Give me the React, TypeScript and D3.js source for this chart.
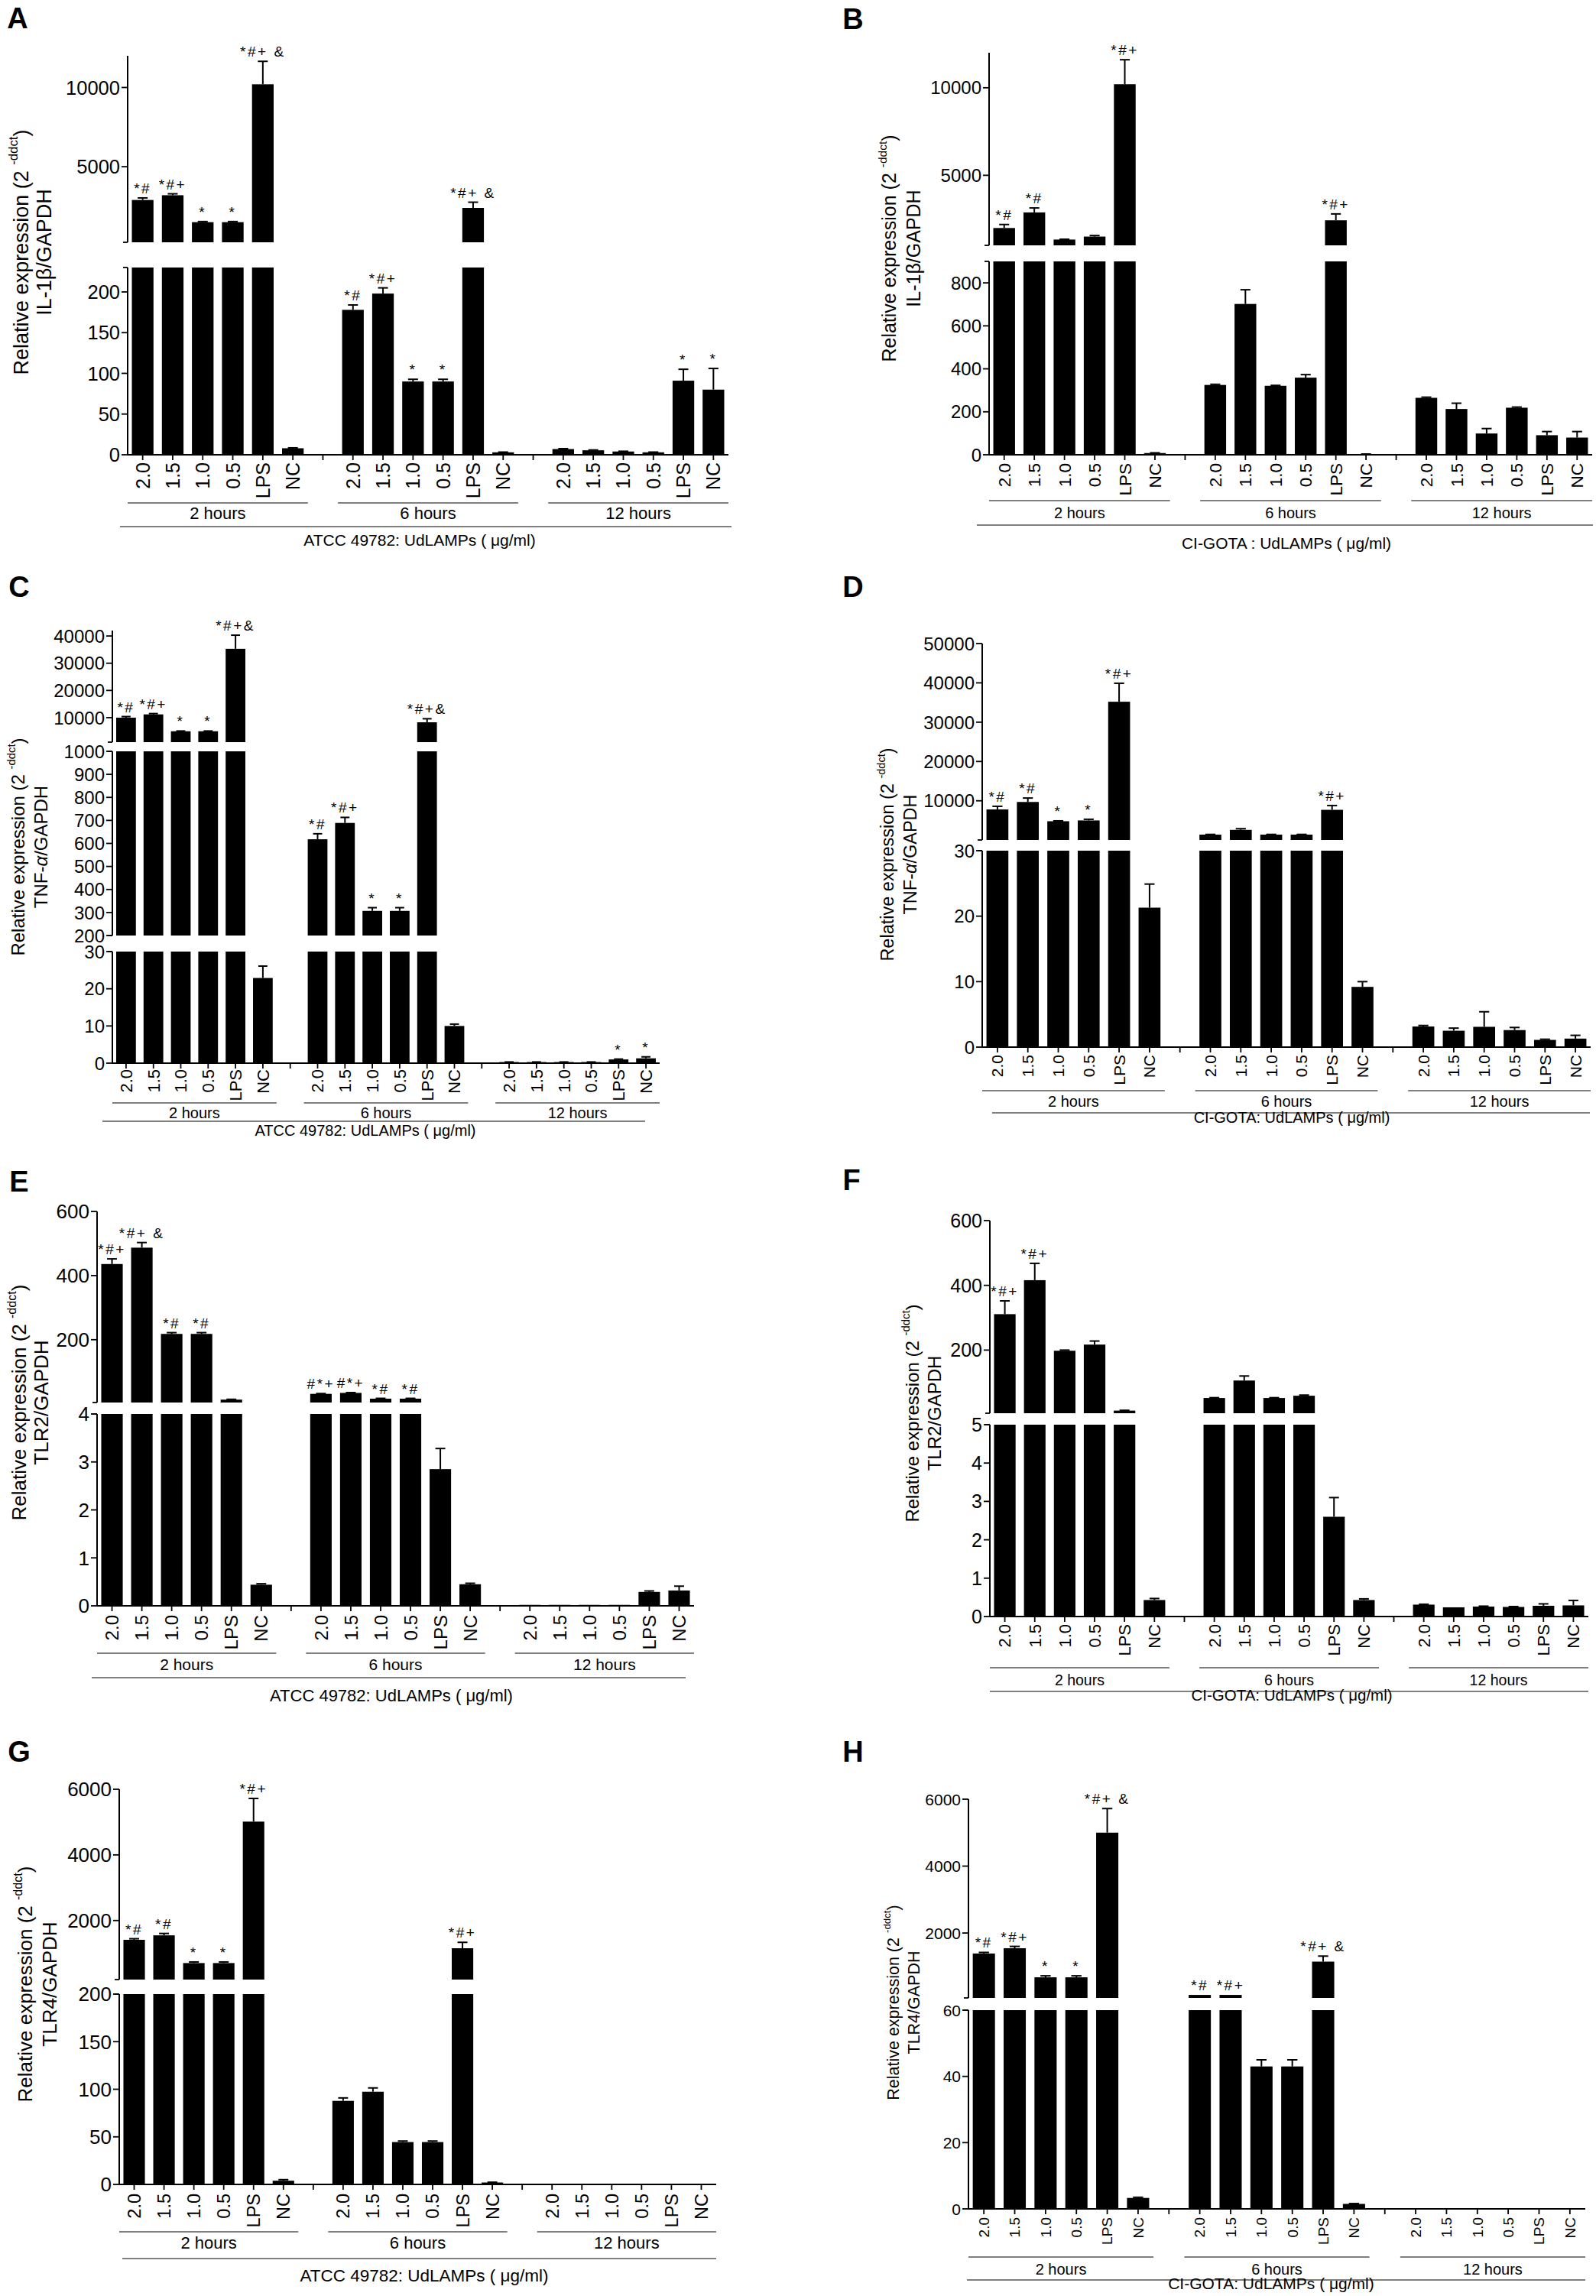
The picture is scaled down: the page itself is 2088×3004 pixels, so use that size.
import * as d3 from "d3";

// Shared categories
const CATEGORIES = ["2.0", "1.5", "1.0", "0.5", "LPS", "NC"];
const GROUPS = ["2 hours", "6 hours", "12 hours"];

// A: IL-1β, ATCC 49782
const aValues = [2900, 3200, 1500, 1500, 10200, 8, 178, 198, 90, 90, 2400, 3, 7, 5.5, 4, 3, 91, 80];
const aErrors = [130, 90, 40, 40, 1450, 0.5, 6, 7, 2.7, 2.7, 360, 0.3, 0.5, 0.4, 0.3, 0.3, 14, 26];
const aMarks = ["*#", "*#+", "*", "*", "*#+ &", "", "*#", "*#+", "*", "*", "*#+ &", "", "", "", "", "", "*", "*"];
const aSegments = [
  { domain: [0, 230], ticks: [0, 50, 100, 150, 200] },
  { domain: [230, 12000], ticks: [5000, 10000] },
];

// B: IL-1β, CI-GOTA
const bValues = [1990, 2880, 1330, 1500, 10200, 8, 325, 702, 321, 359, 2430, 3, 265, 213, 99, 219, 91, 80];
const bErrors = [200, 255, 20, 60, 1400, 1, 3, 66, 2, 14, 365, 0.5, 3, 27, 23, 3, 17, 28];
const bMarks = ["*#", "*#", "", "", "*#+", "", "", "", "", "", "*#+", "", "", "", "", "", "", ""];
const bSegments = [
  { domain: [0, 900], ticks: [0, 200, 400, 600, 800] },
  { domain: [1000, 12000], ticks: [5000, 10000] },
];

// C: TNF-α, ATCC 49782
const cValues = [10000, 11200, 5000, 5000, 35300, 22.9, 618, 689, 307, 307, 8300, 10, 0.3, 0.3, 0.3, 0.3, 1.0, 1.3];
const cErrors = [400, 300, 100, 100, 5000, 3.2, 24, 24, 14, 14, 1300, 0.5, 0.02, 0.02, 0.02, 0.02, 0.1, 0.4];
const cMarks = ["*#", "*#+", "*", "*", "*#+&", "", "*#", "*#+", "*", "*", "*#+&", "", "", "", "", "", "*", "*"];
const cSegments = [
  { domain: [0, 30], ticks: [0, 10, 20, 30] },
  { domain: [200, 1000], ticks: [200, 300, 400, 500, 600, 700, 800, 900, 1000] },
  { domain: [1000, 42000], ticks: [10000, 20000, 30000, 40000] },
];

// D: TNF-α, CI-GOTA
const dValues = [7800, 9700, 4800, 5000, 35200, 21.3, 1400, 2600, 1400, 1400, 7700, 9.2, 3.15, 2.5, 3.1, 2.6, 1.1, 1.3];
const dErrors = [800, 1000, 100, 300, 4700, 3.6, 50, 300, 50, 50, 1100, 0.8, 0.15, 0.4, 2.3, 0.4, 0.1, 0.5];
const dMarks = ["*#", "*#", "*", "*", "*#+", "", "", "", "", "", "*#+", "", "", "", "", "", "", ""];
const dSegments = [
  { domain: [0, 30], ticks: [0, 10, 20, 30] },
  { domain: [30, 50000], ticks: [10000, 20000, 30000, 40000, 50000] },
];

// E: TLR2, ATCC 49782
const eValues = [436, 487, 218, 218, 13, 0.44, 31, 34, 16, 16, 2.85, 0.45, 0.02, 0.02, 0.02, 0.02, 0.29, 0.32];
const eErrors = [16, 16, 4, 4, 1, 0.02, 1, 1, 1, 1, 0.43, 0.02, 0, 0, 0, 0, 0.02, 0.09];
const eMarks = ["*#+", "*#+ &", "*#", "*#", "", "", "#*+", "#*+", "*#", "*#", "", "", "", "", "", "", "", ""];
const eSegments = [
  { domain: [0, 4], ticks: [0, 1, 2, 3, 4] },
  { domain: [4, 600], ticks: [200, 400, 600] },
];

// F: TLR2, CI-GOTA
const fValues = [311, 416, 198, 217, 13, 0.43, 52, 106, 52, 59, 2.6, 0.43, 0.31, 0.24, 0.26, 0.25, 0.28, 0.29];
const fErrors = [41, 52, 2, 11, 1, 0.04, 1, 14, 1, 2, 0.5, 0.03, 0.01, 0, 0.01, 0.01, 0.05, 0.13];
const fMarks = ["*#+", "*#+", "", "", "", "", "", "", "", "", "", "", "", "", "", "", "", ""];
const fSegments = [
  { domain: [0, 5], ticks: [0, 1, 2, 3, 4, 5] },
  { domain: [5, 600], ticks: [200, 400, 600] },
];

// G: TLR4, ATCC 49782
const gValues = [1412, 1548, 703, 703, 5014, 3.9, 87.8, 97.4, 44.5, 44.5, 1155, 2, 0.3, 0.3, 0.3, 0.3, 0.3, 0.3];
const gErrors = [33, 57, 34, 34, 706, 1.1, 3.1, 4, 1.1, 1.1, 180, 0.3, 0, 0, 0, 0, 0, 0];
const gMarks = ["*#", "*#", "*", "*", "*#+", "", "", "", "", "", "*#+", "", "", "", "", "", "", ""];
const gSegments = [
  { domain: [0, 200], ticks: [0, 50, 100, 150, 200] },
  { domain: [200, 6000], ticks: [2000, 4000, 6000] },
];

// H: TLR4, CI-GOTA
const hValues = [1388, 1545, 676, 676, 5000, 3.3, 150, 150, 43, 43, 1145, 1.5, 0.1, 0.1, 0.1, 0.1, 0.1, 0.1];
const hErrors = [32, 55, 44, 44, 720, 0.2, 0, 0, 2, 2, 165, 0.1, 0, 0, 0, 0, 0, 0];
const hMarks = ["*#", "*#+", "*", "*", "*#+ &", "", "*#", "*#+", "", "", "*#+ &", "", "", "", "", "", "", ""];
const hSegments = [
  { domain: [0, 60], ticks: [0, 20, 40, 60] },
  { domain: [60, 6000], ticks: [2000, 4000, 6000] },
];

const ATCC_TITLE = "ATCC 49782: UdLAMPs ( μg/ml)";

// slot keys: 6 bars per group, one empty slot between groups
const SLOTS: string[] = [];
GROUPS.forEach((g, gi) => {
  if (gi > 0) SLOTS.push(`gap${gi}`);
  CATEGORIES.forEach((c) => SLOTS.push(`${g}|${c}`));
});

const FONT = "'Liberation Sans', Arial, Helvetica, sans-serif";

interface Segment {
  domain: number[];
  ticks: number[];
}

interface Layout {
  letter: string;
  letterX: number;
  letterY: number;
  left: number;
  right: number;
  segPx: [number, number][];
  catTop: number;
  groupLineY: number;
  groupTextY: number;
  titleLineY: number;
  titleLineX: [number, number];
  titleX: number;
  titleY: number;
  yTitleX: [number, number];
  yTitleY: number;
  fonts: { tick: number; cat: number; group: number; title: number; yTitle: number };
}

interface YLabel {
  prefix: string;
  greek?: string;
  italic?: boolean;
  suffix?: string;
}

interface PanelProps {
  layout: Layout;
  segments: Segment[];
  values: number[];
  errors: number[];
  marks: string[];
  yLabel: YLabel;
  xTitle: string;
}

function Panel({ layout, segments, values, errors, marks, yLabel, xTitle }: PanelProps) {
  const x = d3
    .scaleBand<string>()
    .domain(SLOTS)
    .range([layout.left, layout.right])
    .paddingInner(0.28)
    .paddingOuter(0.14);
  const step = x.step();
  const bw = x.bandwidth();
  const edge = (step - bw) / 2;

  const ys = segments.map((s, i) =>
    d3.scaleLinear().domain(s.domain).range(layout.segPx[i])
  );
  const axisY = ys[0](0);
  const f = layout.fonts;

  const keyOf = (i: number) => `${GROUPS[Math.floor(i / 6)]}|${CATEGORIES[i % 6]}`;

  return (
    <g fontFamily={FONT} fill="#000">
      <text x={layout.letterX} y={layout.letterY} fontSize={38} fontWeight="bold" textAnchor="middle">
        {layout.letter}
      </text>

      {/* y axis segments */}
      {ys.map((y, si) => {
        const [lo, hi] = segments[si].domain;
        const edgeTicks: number[] = [];
        if (si > 0) edgeTicks.push(lo);
        if (si < ys.length - 1) edgeTicks.push(hi);
        return (
          <g key={`seg${si}`}>
            <line x1={layout.left} x2={layout.left} y1={y(lo)} y2={y(hi)} stroke="#000" strokeWidth={2} />
            {edgeTicks.map((t) => (
              <line key={`e${t}`} x1={layout.left - 6} x2={layout.left} y1={y(t)} y2={y(t)} stroke="#000" strokeWidth={1.8} />
            ))}
            {segments[si].ticks.map((t) => (
              <g key={t}>
                <line x1={layout.left - 8} x2={layout.left} y1={y(t)} y2={y(t)} stroke="#000" strokeWidth={1.8} />
                <text x={layout.left - 10} y={y(t)} dy="0.36em" textAnchor="end" fontSize={f.tick}>
                  {t}
                </text>
              </g>
            ))}
          </g>
        );
      })}

      {/* x axis with a tick under every slot */}
      <line x1={layout.left} x2={layout.right} y1={axisY} y2={axisY} stroke="#000" strokeWidth={2} />
      {SLOTS.map((s) => (
        <line
          key={s}
          x1={(x(s) as number) + bw / 2}
          x2={(x(s) as number) + bw / 2}
          y1={axisY}
          y2={axisY + 7}
          stroke="#000"
          strokeWidth={1.8}
        />
      ))}

      {/* bars */}
      {values.map((v, i) => {
        const key = keyOf(i);
        const bx = x(key) as number;
        return (
          <g key={key}>
            {ys.map((y, si) => {
              const [lo, hi] = segments[si].domain;
              if (v <= lo) return null;
              const top = y(Math.min(v, hi));
              return <rect key={si} x={bx} y={top} width={bw} height={y(lo) - top} fill="#000" />;
            })}
          </g>
        );
      })}

      {/* error bars and significance marks */}
      {values.map((v, i) => {
        const key = keyOf(i);
        const cx = (x(key) as number) + bw / 2;
        let si = ys.findIndex((_, k) => v > segments[k].domain[0] && v <= segments[k].domain[1]);
        if (si < 0) si = 0;
        const y = ys[si];
        const e = errors[i];
        const yTop = y(v + e);
        const cap = bw * 0.23;
        return (
          <g key={`err${key}`}>
            {e > 0 && (
              <g stroke="#000" strokeWidth={2}>
                <line x1={cx} x2={cx} y1={y(v)} y2={yTop} />
                <line x1={cx - cap} x2={cx + cap} y1={yTop} y2={yTop} />
              </g>
            )}
            {marks[i] && (
              <text x={cx} y={yTop - 6} textAnchor="middle" fontSize={19} letterSpacing={2.5}>
                {marks[i]}
              </text>
            )}
          </g>
        );
      })}

      {/* category labels */}
      {values.map((_, i) => {
        const key = keyOf(i);
        const cx = (x(key) as number) + bw / 2;
        return (
          <text
            key={`lab${key}`}
            transform={`translate(${cx},${layout.catTop}) rotate(-90)`}
            textAnchor="end"
            dy="0.36em"
            fontSize={f.cat}
          >
            {CATEGORIES[i % 6]}
          </text>
        );
      })}

      {/* group brackets */}
      {GROUPS.map((g) => {
        const x1 = (x(`${g}|${CATEGORIES[0]}`) as number) - edge;
        const x2 = (x(`${g}|${CATEGORIES[5]}`) as number) + bw + edge;
        return (
          <g key={g}>
            <line x1={x1} x2={x2} y1={layout.groupLineY} y2={layout.groupLineY} stroke="#000" strokeWidth={1.2} />
            <text x={(x1 + x2) / 2} y={layout.groupTextY} textAnchor="middle" fontSize={f.group}>
              {g}
            </text>
          </g>
        );
      })}

      <line
        x1={layout.titleLineX[0]}
        x2={layout.titleLineX[1]}
        y1={layout.titleLineY}
        y2={layout.titleLineY}
        stroke="#000"
        strokeWidth={1.2}
      />
      <text x={layout.titleX} y={layout.titleY} textAnchor="middle" fontSize={f.title}>
        {xTitle}
      </text>

      {/* y title */}
      <text
        transform={`translate(${layout.yTitleX[0]},${layout.yTitleY}) rotate(-90)`}
        textAnchor="middle"
        dy="0.36em"
        fontSize={f.yTitle}
      >
        Relative expression (2{" "}
        <tspan fontSize={f.yTitle * 0.62} dy={-f.yTitle * 0.5}>
          -ddct
        </tspan>
        <tspan fontSize={f.yTitle} dy={f.yTitle * 0.5}>
          )
        </tspan>
      </text>
      <text
        transform={`translate(${layout.yTitleX[1]},${layout.yTitleY}) rotate(-90)`}
        textAnchor="middle"
        dy="0.36em"
        fontSize={f.yTitle}
      >
        {yLabel.prefix}
        {yLabel.greek && <tspan fontStyle={yLabel.italic ? "italic" : "normal"}>{yLabel.greek}</tspan>}
        {yLabel.suffix}
      </text>
    </g>
  );
}

const layoutA: Layout = {
  letter: "A", letterX: 23, letterY: 37, left: 167, right: 953,
  segPx: [[595, 350], [317, 73]], catTop: 605,
  groupLineY: 658, groupTextY: 679, titleLineY: 689, titleLineX: [157, 957],
  titleX: 549, titleY: 714, yTitleX: [27, 57], yTitleY: 330,
  fonts: { tick: 25.5, cat: 25, group: 22, title: 21, yTitle: 27 },
};
const layoutB: Layout = {
  letter: "B", letterX: 1116, letterY: 38, left: 1294, right: 2083,
  segPx: [[595, 342], [321, 69]], catTop: 606,
  groupLineY: 655, groupTextY: 678, titleLineY: 687, titleLineX: [1278, 2084],
  titleX: 1683, titleY: 718, yTitleX: [1163, 1195], yTitleY: 325,
  fonts: { tick: 24, cat: 22.5, group: 20, title: 21, yTitle: 25 },
};
const layoutC: Layout = {
  letter: "C", letterX: 25, letterY: 781, left: 147, right: 863,
  segPx: [[1391, 1245], [1224, 983], [971, 825]], catTop: 1399,
  groupLineY: 1443, groupTextY: 1463, titleLineY: 1467, titleLineX: [134, 844],
  titleX: 478, titleY: 1486, yTitleX: [23, 53], yTitleY: 1108,
  fonts: { tick: 24, cat: 22, group: 20, title: 20, yTitle: 24 },
};
const layoutD: Layout = {
  letter: "D", letterX: 1116, letterY: 781, left: 1285, right: 2081,
  segPx: [[1370, 1113], [1099, 842]], catTop: 1380,
  groupLineY: 1427, groupTextY: 1448, titleLineY: 1456, titleLineX: [1298, 2080],
  titleX: 1690, titleY: 1469, yTitleX: [1161, 1191], yTitleY: 1118,
  fonts: { tick: 24, cat: 21, group: 20, title: 20, yTitle: 23.5 },
};
const layoutE: Layout = {
  letter: "E", letterX: 25, letterY: 1559, left: 127, right: 908,
  segPx: [[2101, 1850], [1835, 1585]], catTop: 2113,
  groupLineY: 2163, groupTextY: 2185, titleLineY: 2195, titleLineX: [120, 897],
  titleX: 512, titleY: 2226, yTitleX: [25, 54], yTitleY: 1835,
  fonts: { tick: 26, cat: 24, group: 21, title: 22, yTitle: 26 },
};
const layoutF: Layout = {
  letter: "F", letterX: 1114, letterY: 1557, left: 1295, right: 2078,
  segPx: [[2115, 1864], [1849, 1597]], catTop: 2125,
  groupLineY: 2182, groupTextY: 2205, titleLineY: 2213, titleLineX: [1295, 2078],
  titleX: 1690, titleY: 2225, yTitleX: [1193, 1222], yTitleY: 1849,
  fonts: { tick: 25, cat: 22, group: 19.5, title: 20.5, yTitle: 24 },
};
const layoutG: Layout = {
  letter: "G", letterX: 25, letterY: 2305, left: 156, right: 937,
  segPx: [[2858, 2609], [2590, 2341]], catTop: 2870,
  groupLineY: 2920, groupTextY: 2942, titleLineY: 2955, titleLineX: [160, 937],
  titleX: 555, titleY: 2985, yTitleX: [33, 65], yTitleY: 2596,
  fonts: { tick: 26, cat: 23.5, group: 22, title: 22.5, yTitle: 26 },
};
const layoutH: Layout = {
  letter: "H", letterX: 1116, letterY: 2305, left: 1267, right: 2074,
  segPx: [[2890, 2630], [2614, 2354]], catTop: 2901,
  groupLineY: 2953, groupTextY: 2976, titleLineY: 2983, titleLineX: [1265, 2074],
  titleX: 1663, titleY: 2995, yTitleX: [1168, 1195], yTitleY: 2620,
  fonts: { tick: 21, cat: 19, group: 20, title: 21, yTitle: 21.5 },
};

export default function App() {
  return (
    <svg
      width={2088}
      height={3004}
      viewBox="0 0 2088 3004"
      style={{ position: "absolute", left: 0, top: 0, background: "#fff" }}
    >
      <rect width={2088} height={3004} fill="#fff" />
      <Panel layout={layoutA} segments={aSegments} values={aValues} errors={aErrors} marks={aMarks}
        yLabel={{ prefix: "IL-1", greek: "β", suffix: "/GAPDH" }} xTitle={ATCC_TITLE} />
      <Panel layout={layoutB} segments={bSegments} values={bValues} errors={bErrors} marks={bMarks}
        yLabel={{ prefix: "IL-1", greek: "β", suffix: "/GAPDH" }} xTitle="CI-GOTA : UdLAMPs ( μg/ml)" />
      <Panel layout={layoutC} segments={cSegments} values={cValues} errors={cErrors} marks={cMarks}
        yLabel={{ prefix: "TNF-", greek: "α", italic: true, suffix: "/GAPDH" }} xTitle={ATCC_TITLE} />
      <Panel layout={layoutD} segments={dSegments} values={dValues} errors={dErrors} marks={dMarks}
        yLabel={{ prefix: "TNF-", greek: "α", italic: true, suffix: "/GAPDH" }} xTitle="CI-GOTA: UdLAMPs ( μg/ml)" />
      <Panel layout={layoutE} segments={eSegments} values={eValues} errors={eErrors} marks={eMarks}
        yLabel={{ prefix: "TLR2/GAPDH" }} xTitle={ATCC_TITLE} />
      <Panel layout={layoutF} segments={fSegments} values={fValues} errors={fErrors} marks={fMarks}
        yLabel={{ prefix: "TLR2/GAPDH" }} xTitle="CI-GOTA: UdLAMPs ( μg/ml)" />
      <Panel layout={layoutG} segments={gSegments} values={gValues} errors={gErrors} marks={gMarks}
        yLabel={{ prefix: "TLR4/GAPDH" }} xTitle={ATCC_TITLE} />
      <Panel layout={layoutH} segments={hSegments} values={hValues} errors={hErrors} marks={hMarks}
        yLabel={{ prefix: "TLR4/GAPDH" }} xTitle="CI-GOTA: UdLAMPs ( μg/ml)" />
    </svg>
  );
}
